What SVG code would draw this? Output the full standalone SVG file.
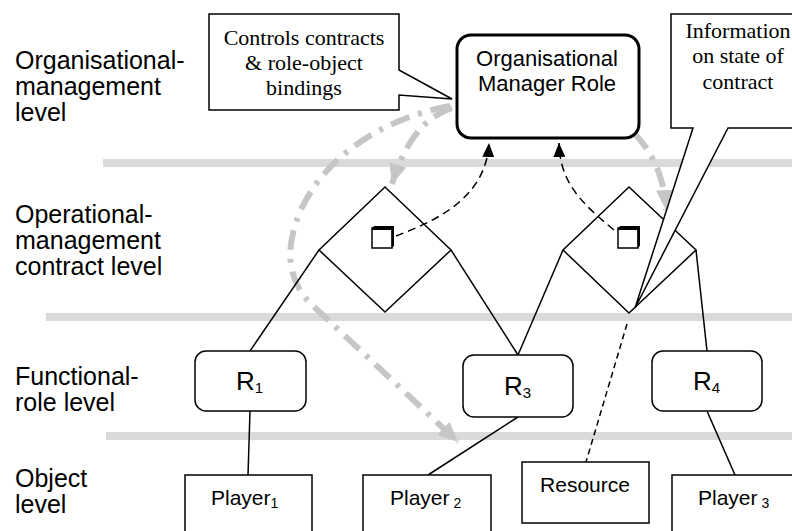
<svg xmlns="http://www.w3.org/2000/svg" width="792" height="531" viewBox="0 0 792 531">
  <style>
    .band { stroke: #dadada; stroke-width: 8; fill: none; }
    .lvl { font-family: "Liberation Sans", Arial, sans-serif; font-size: 25px; fill: #000; }
    .sans { font-family: "Liberation Sans", Arial, sans-serif; fill: #000; }
    .serif { font-family: "Liberation Serif", "Times New Roman", serif; font-size: 22px; fill: #000; text-anchor: middle; }
    .box { fill: #fff; stroke: #000; stroke-width: 1.5; }
    .line { stroke: #000; stroke-width: 1.5; fill: none; }
    .dash { stroke: #000; stroke-width: 1.5; fill: none; stroke-dasharray: 8 5; }
    .fine { stroke: #000; stroke-width: 1.5; fill: none; stroke-dasharray: 6 4; }
    .ctl { stroke: #c6c6c6; stroke-width: 6; fill: none; stroke-dasharray: 20 9 4 9; }
    .callout { fill: #fff; stroke: #000; stroke-width: 1.5; }
  </style>
  <defs>
    <marker id="blk" markerUnits="userSpaceOnUse" markerWidth="16" markerHeight="14" refX="14" refY="6" orient="auto">
      <path d="M0,0 L14,6 L0,12 Z" fill="#000"/>
    </marker>
    <marker id="gry" markerUnits="userSpaceOnUse" markerWidth="22" markerHeight="20" refX="20" refY="9" orient="auto">
      <path d="M0,0 L20,9 L0,18 Z" fill="#c6c6c6"/>
    </marker>
    <!-- contract icon: square with heavy top and right edges -->
    <g id="cube">
      <rect x="1" y="2" width="20" height="20" fill="#fff" stroke="#000" stroke-width="1.5"/>
      <path d="M1,2.5 L3,0 L23,0 L23,20 L20.5,22 L20.5,4 L1,4 Z" fill="#000"/>
    </g>
  </defs>

  <!-- level separators -->
  <g id="bands">
    <line class="band" x1="103" y1="163" x2="792" y2="163"/>
    <line class="band" x1="46" y1="317" x2="792" y2="317"/>
    <line class="band" x1="106" y1="436" x2="792" y2="436"/>
  </g>

  <!-- level labels -->
  <g id="level-labels" class="lvl">
    <text x="15" y="69">Organisational-</text>
    <text x="15" y="95">management</text>
    <text x="15" y="121">level</text>
    <text x="15" y="223">Operational-</text>
    <text x="15" y="249">management</text>
    <text x="15" y="275">contract level</text>
    <text x="15" y="385">Functional-</text>
    <text x="15" y="411">role level</text>
    <text x="15" y="487">Object</text>
    <text x="15" y="513">level</text>
  </g>

  <!-- control flows from the organisational manager -->
  <g id="control-flows">
    <path class="ctl" d="M450,106 C 385,118 325,155 300,212 C 284,250 288,280 310,303 L 458,442" marker-end="url(#gry)"/>
    <path class="ctl" d="M452,108 C 422,118 404,145 392,184" marker-end="url(#gry)"/>
    <path class="ctl" d="M634,133 C 652,152 664,175 666,210" marker-end="url(#gry)"/>
  </g>

  <!-- connectors -->
  <g id="connectors">
    <line class="line" x1="319" y1="250" x2="250" y2="351"/>
    <line class="line" x1="451" y1="250" x2="518" y2="355"/>
    <line class="line" x1="563" y1="250" x2="518" y2="355"/>
    <line class="line" x1="696" y1="250" x2="707" y2="351"/>
    <line class="line" x1="250" y1="411" x2="248" y2="475"/>
    <line class="line" x1="518" y1="417" x2="428" y2="475"/>
    <line class="line" x1="707" y1="411" x2="735" y2="475"/>
    <line class="fine" x1="627" y1="324" x2="586" y2="462"/>
    <path class="dash" d="M396,236 C 432,222 486,200 489,143" marker-end="url(#blk)"/>
    <path class="dash" d="M614,230 C 580,202 560,182 559,143" marker-end="url(#blk)"/>
  </g>

  <!-- organisational manager role -->
  <g id="org-manager">
    <rect x="457" y="35" width="182" height="103" rx="14" fill="#fff" stroke="#000" stroke-width="3"/>
    <text class="sans" x="547" y="66" font-size="22" text-anchor="middle">Organisational</text>
    <text class="sans" x="547" y="91" font-size="22" text-anchor="middle">Manager Role</text>
  </g>

  <!-- contracts -->
  <g id="contract-1">
    <polygon points="385,187 451,250 385,312 319,250" fill="none" stroke="#000" stroke-width="1.5"/>
    <use href="#cube" x="371" y="226"/>
  </g>
  <g id="contract-2">
    <polygon points="629,187 696,250 629,313 563,250" fill="none" stroke="#000" stroke-width="1.5"/>
    <use href="#cube" x="617" y="226"/>
  </g>

  <!-- functional roles -->
  <g id="role-r1">
    <rect class="box" x="195" y="351" width="111" height="60" rx="11"/>
    <text class="sans" x="236" y="390" font-size="26">R<tspan font-size="15" dy="3">1</tspan></text>
  </g>
  <g id="role-r3">
    <rect class="box" x="463" y="355" width="110" height="62" rx="11"/>
    <text class="sans" x="504" y="395" font-size="26">R<tspan font-size="15" dy="3">3</tspan></text>
  </g>
  <g id="role-r4">
    <rect class="box" x="652" y="351" width="110" height="60" rx="11"/>
    <text class="sans" x="693" y="390" font-size="26">R<tspan font-size="15" dy="3">4</tspan></text>
  </g>

  <!-- objects -->
  <g id="player-1">
    <rect class="box" x="185" y="475" width="127" height="70"/>
    <text class="sans" x="211" y="505" font-size="21">Player<tspan font-size="14" dy="3">1</tspan></text>
  </g>
  <g id="player-2">
    <rect class="box" x="363" y="475" width="128" height="70"/>
    <text class="sans" x="390" y="505" font-size="21">Player<tspan font-size="14" dy="3"> 2</tspan></text>
  </g>
  <g id="resource">
    <rect class="box" x="522" y="462" width="127" height="61"/>
    <text class="sans" x="585" y="492" font-size="21" text-anchor="middle">Resource</text>
  </g>
  <g id="player-3">
    <rect class="box" x="672" y="475" width="130" height="70"/>
    <text class="sans" x="698" y="505" font-size="21">Player<tspan font-size="14" dy="3"> 3</tspan></text>
  </g>

  <!-- annotations -->
  <g id="note-controls">
    <path class="callout" d="M209,14 H399 V70 L452,99 L399,95 V110 H209 Z"/>
    <text class="serif" x="304" y="45">Controls contracts</text>
    <text class="serif" x="304" y="70">&amp; role-object</text>
    <text class="serif" x="304" y="95">bindings</text>
  </g>
  <g id="note-state">
    <path class="callout" d="M806,14 H671 V128 H693 L635,308 L728,128 H806"/>
    <text class="serif" x="738" y="38">Information</text>
    <text class="serif" x="738" y="63">on state of</text>
    <text class="serif" x="738" y="89">contract</text>
  </g>
</svg>
